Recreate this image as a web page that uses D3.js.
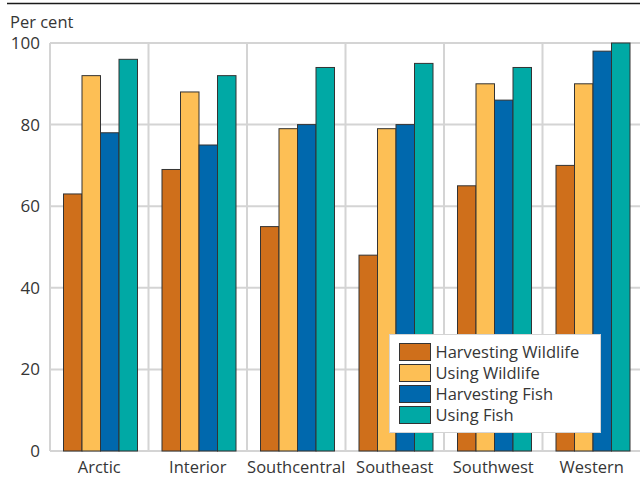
<!DOCTYPE html>
<html><head><meta charset="utf-8">
<script src="https://cdn.jsdelivr.net/npm/d3@7"></script>
<style>body{margin:0;background:#fff}svg{display:block;font-family:"Open Sans",sans-serif}</style>
</head><body><svg id="c" width="640" height="477"></svg>
<script>
const categories = ["Arctic","Interior","Southcentral","Southeast","Southwest","Western"];
const seriesNames = ["Harvesting Wildlife","Using Wildlife","Harvesting Fish","Using Fish"];
const harvestingWildlife = [63,69,55,48,65,70];
const usingWildlife = [92,88,79,79,90,90];
const harvestingFish = [78,75,80,80,86,98];
const usingFish = [96,92,94,95,94,100];
const seriesValues = [harvestingWildlife, usingWildlife, harvestingFish, usingFish];
const yTicks = [0,20,40,60,80,100];
const colors = ["#cf6f1b","#fdbf55","#0068ad","#00a9a5"];

const svg = d3.select("#c");
const pLeft = 50, pRight = 641, pTop = 43, pBottom = 451;
const x = d3.scaleBand().domain(categories).range([pLeft, pRight]).paddingInner(0).paddingOuter(0);
const xs = d3.scaleBand().domain(d3.range(4)).range([13, 87]).padding(0);
const y = d3.scaleLinear().domain([0,100]).range([pBottom, pTop]);
const txt = "#363636";

// top rule
svg.append("line").attr("x1",7).attr("x2",640).attr("y1",3.5).attr("y2",3.5).attr("stroke","#1a1a1a").attr("stroke-width",1.5);

// gridlines
const grid = svg.append("g").attr("stroke","#d4d4d4").attr("stroke-width",2);
grid.selectAll("line.h").data(yTicks).join("line").attr("class","h")
  .attr("x1",pLeft).attr("x2",640).attr("y1",d=>y(d)).attr("y2",d=>y(d));
grid.selectAll("line.v").data(categories).join("line").attr("class","v")
  .attr("x1",d=>x(d)).attr("x2",d=>x(d)).attr("y1",pTop).attr("y2",pBottom);

// y axis labels
const yAxis = d3.axisLeft(y).tickValues(yTicks).tickSize(0).tickPadding(10);
const yg = svg.append("g").attr("transform",`translate(${pLeft},0)`).call(yAxis);
yg.select(".domain").remove();
yg.selectAll("text").attr("font-size",17).attr("fill",txt).attr("font-family","Open Sans");

// x axis labels
const xAxis = d3.axisBottom(x).tickSize(0).tickPadding(10);
const xg = svg.append("g").attr("transform",`translate(0,${pBottom})`).call(xAxis);
xg.select(".domain").remove();
xg.selectAll("text").attr("font-size",16.5).attr("fill",txt).attr("font-family","Open Sans");

svg.append("text").attr("x",10).attr("y",28).attr("font-size",16.5).attr("fill",txt).text("Per cent");

// bars
const groups = svg.append("g").selectAll("g").data(categories).join("g")
  .attr("transform",d=>`translate(${x(d)},0)`);
groups.selectAll("rect").data((d,i)=>seriesValues.map((s,j)=>({j, v:s[i]}))).join("rect")
  .attr("x",d=>xs(d.j)+0.5).attr("width",xs.bandwidth())
  .attr("y",d=>y(d.v)).attr("height",d=>pBottom-y(d.v))
  .attr("fill",d=>colors[d.j]).attr("stroke","#333").attr("stroke-width",1);

// legend
const lg = svg.append("g").attr("transform","translate(389,334)");
lg.append("rect").attr("x",0.5).attr("y",0.5).attr("width",211).attr("height",98)
  .attr("fill","#fff").attr("stroke","#d4d4d4").attr("stroke-width",1);
const items = lg.selectAll("g").data(seriesNames).join("g")
  .attr("transform",(d,i)=>`translate(10.5,${9.5+i*21})`);
items.append("rect").attr("width",31).attr("height",17).attr("fill",(d,i)=>colors[i]).attr("stroke","#333");
items.append("text").attr("x",36).attr("y",14.5).attr("font-size",16.5).attr("fill",txt).text(d=>d);
</script></body></html>
